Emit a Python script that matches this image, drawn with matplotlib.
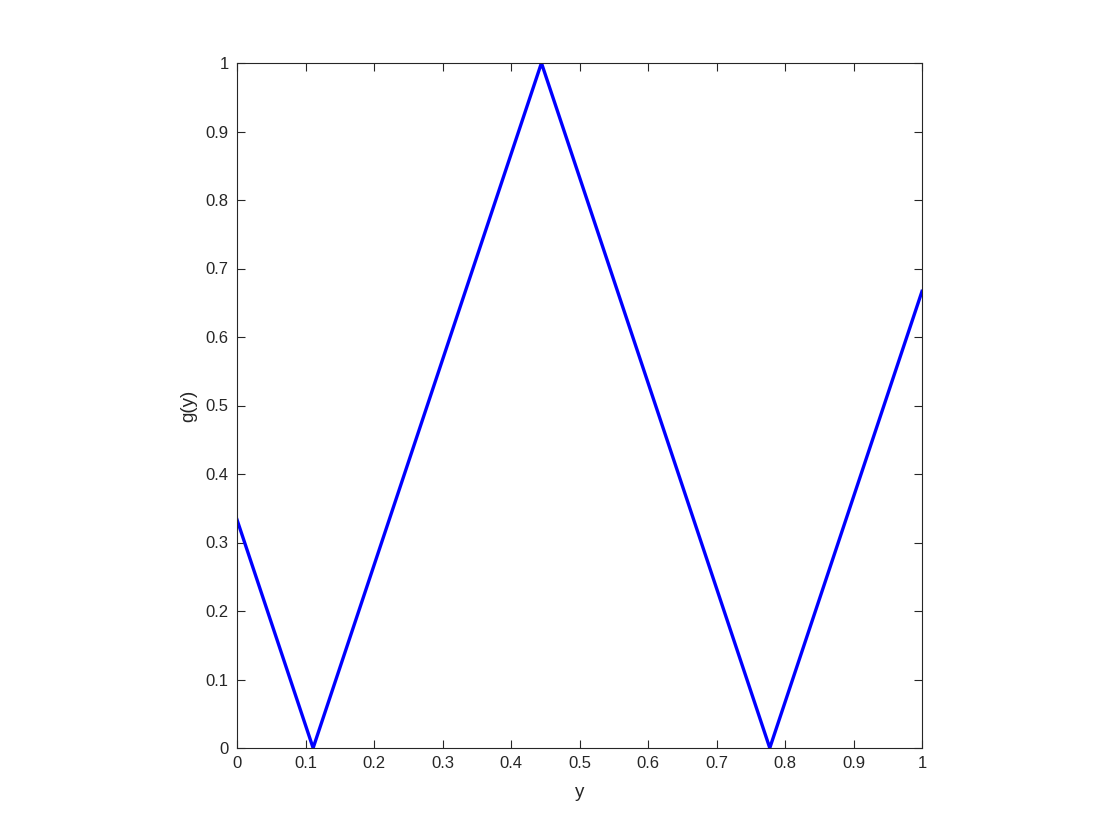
import matplotlib
matplotlib.use("Agg")
import matplotlib.pyplot as plt

plt.rcParams["font.family"] = ["Liberation Sans", "DejaVu Sans"]

# breakpoints of g(y)
y_vals = [0.0, 1 / 9, 4 / 9, 7 / 9, 1.0]
g_vals = [1 / 3, 0.0, 1.0, 0.0, 2 / 3]

x_ticks = [0, 0.1, 0.2, 0.3, 0.4, 0.5, 0.6, 0.7, 0.8, 0.9, 1]
x_labels = ["0", "0.1", "0.2", "0.3", "0.4", "0.5", "0.6", "0.7", "0.8", "0.9", "1"]
y_ticks = x_ticks
y_labels = x_labels


def main():
    fig = plt.figure(figsize=(11.2, 8.4), dpi=100)
    ax = fig.add_axes([237 / 1120, 1 - 748 / 840, 685 / 1120, 685 / 840])

    ax.plot(y_vals, g_vals, color=(0, 0, 1), linewidth=2.4)

    ax.set_xlim(0, 1)
    ax.set_ylim(0, 1)
    ax.set_xticks(x_ticks)
    ax.set_xticklabels(x_labels)
    ax.set_yticks(y_ticks)
    ax.set_yticklabels(y_labels)
    ax.tick_params(direction="in", top=True, right=True, length=6,
                   width=0.8, labelsize=12, colors="#262626", pad=6)
    for s in ax.spines.values():
        s.set_color("#262626")
        s.set_linewidth(0.8)

    ax.set_xlabel("y", fontsize=13.5, color="#262626", labelpad=9)
    ax.set_ylabel("g(y)", fontsize=13.5, color="#262626", labelpad=6)

    fig.savefig("out.png", dpi=100)


if __name__ == "__main__":
    main()
